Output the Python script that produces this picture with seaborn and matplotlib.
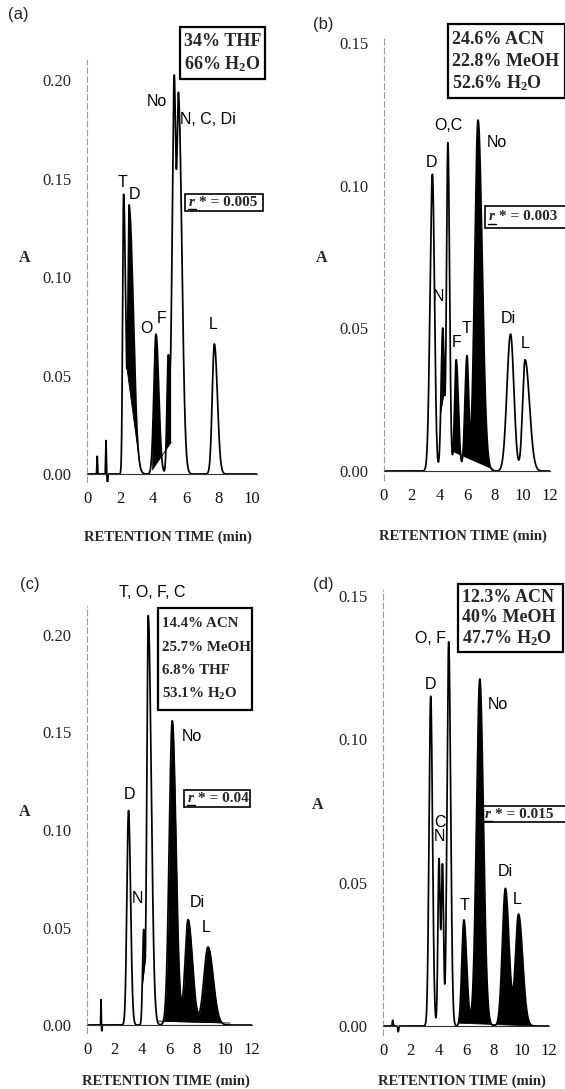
import numpy as np
import pandas as pd
import matplotlib
matplotlib.use("Agg")
import matplotlib.pyplot as plt
from matplotlib.patches import Rectangle
from matplotlib.lines import Line2D
import seaborn as sns

sns.set_theme(style="white")
plt.rcParams["font.family"] = ["Liberation Serif", "DejaVu Serif"]
plt.rcParams["mathtext.fontset"] = "custom"
plt.rcParams["mathtext.rm"] = "Liberation Serif:bold"
plt.rcParams["mathtext.bf"] = "Liberation Serif:bold"
plt.rcParams["mathtext.it"] = "Liberation Serif:italic:bold"

# ---------------- data ----------------
# panel (a): 34% THF / 66% H2O
A_TIME    = [0.62, 1.15, 1.24, 2.22, 2.56, 4.18, 4.92, 5.28, 5.55, 7.72]
A_HEIGHT  = [0.009, 0.017, -0.005, 0.142, 0.134, 0.071, 0.058, 0.197, 0.188, 0.066]
A_SIG_L   = [0.02, 0.02, 0.02, 0.06, 0.07, 0.13, 0.08, 0.12, 0.10, 0.13]
A_SIG_R   = [0.02, 0.02, 0.02, 0.12, 0.25, 0.17, 0.10, 0.10, 0.20, 0.18]
A_FILL_T0 = [2.40, 3.95]
A_FILL_T1 = [3.25, 5.10]
A_FILL_Y0 = [0.055, 0.002]
A_FILL_Y1 = [0.002, 0.016]
A_LABELS  = ["T", "D", "No", "N, C, Di", "O", "F", "L"]
A_LAB_X   = [2.15, 2.85, 4.25, 7.35, 3.6, 4.55, 7.65]
A_LAB_Y   = [0.148, 0.142, 0.189, 0.180, 0.074, 0.079, 0.076]

# panel (b): 24.6% ACN / 22.8% MeOH / 52.6% H2O
B_TIME    = [3.50, 4.25, 4.62, 5.22, 6.00, 6.80, 9.15, 10.20]
B_HEIGHT  = [0.104, 0.050, 0.115, 0.039, 0.040, 0.123, 0.048, 0.039]
B_SIG_L   = [0.17, 0.12, 0.10, 0.12, 0.15, 0.24, 0.26, 0.18]
B_SIG_R   = [0.15, 0.10, 0.12, 0.16, 0.12, 0.30, 0.24, 0.32]
B_FILL_T0 = [4.08, 4.90]
B_FILL_T1 = [4.42, 7.95]
B_FILL_Y0 = [0.020, 0.007]
B_FILL_Y1 = [0.030, 0.0005]
B_LABELS  = ["D", "N", "O,C", "F", "T", "No", "Di", "L"]
B_LAB_X   = [3.44, 3.95, 4.65, 5.26, 5.99, 8.17, 9.0, 10.2]
B_LAB_Y   = [0.108, 0.061, 0.121, 0.045, 0.050, 0.115, 0.0535, 0.0447]

# panel (c): 14.4% ACN / 25.7% MeOH / 6.8% THF / 53.1% H2O
C_TIME    = [1.02, 1.08, 3.02, 4.12, 4.45, 6.20, 7.35, 8.80]
C_HEIGHT  = [0.013, -0.003, 0.110, 0.048, 0.210, 0.156, 0.054, 0.040]
C_SIG_L   = [0.015, 0.02, 0.12, 0.08, 0.10, 0.22, 0.22, 0.30]
C_SIG_R   = [0.015, 0.02, 0.15, 0.08, 0.22, 0.27, 0.32, 0.38]
C_FILL_T0 = [4.02, 5.20]
C_FILL_T1 = [4.27, 10.40]
C_FILL_Y0 = [0.020, 0.002]
C_FILL_Y1 = [0.035, 0.001]
C_LABELS  = ["T, O, F, C", "D", "No", "N", "Di", "L"]
C_LAB_X   = [4.75, 3.06, 7.6, 3.65, 8.0, 8.7]
C_LAB_Y   = [0.222, 0.118, 0.148, 0.065, 0.0626, 0.050]

# panel (d): 12.3% ACN / 40% MeOH / 47.7% H2O
D_TIME    = [0.70, 1.10, 3.45, 4.05, 4.30, 4.75, 5.85, 7.00, 8.85, 9.80]
D_HEIGHT  = [0.002, -0.002, 0.115, 0.058, 0.056, 0.134, 0.037, 0.121, 0.048, 0.039]
D_SIG_L   = [0.03, 0.03, 0.12, 0.08, 0.08, 0.12, 0.15, 0.24, 0.22, 0.22]
D_SIG_R   = [0.03, 0.03, 0.13, 0.08, 0.08, 0.14, 0.20, 0.26, 0.26, 0.30]
D_FILL_T0 = [5.45]
D_FILL_T1 = [10.90]
D_FILL_Y0 = [0.001]
D_FILL_Y1 = [0.000]
D_LABELS  = ["O, F", "D", "No", "C", "N", "T", "Di", "L"]
D_LAB_X   = [3.45, 3.46, 8.34, 4.15, 4.07, 5.9, 8.83, 9.73]
D_LAB_Y   = [0.135, 0.119, 0.112, 0.071, 0.066, 0.042, 0.054, 0.044]

COMPOSITION = {
    "a": ["34% THF", "66% H$_{2}$O"],
    "b": ["24.6% ACN", "22.8% MeOH", "52.6% H$_{2}$O"],
    "c": ["14.4% ACN", "25.7% MeOH", "6.8% THF", "53.1% H$_{2}$O"],
    "d": ["12.3% ACN", "40% MeOH", "47.7% H$_{2}$O"],
}
R_STAR = {"a": "0.005", "b": "0.003", "c": "0.04", "d": "0.015"}
A_TICKS_Y = [0.00, 0.05, 0.10, 0.15, 0.20]
B_TICKS_Y = [0.00, 0.05, 0.10, 0.15]
A_TICKS_X = [0, 2, 4, 6, 8, 10]
C_TICKS_X = [0, 2, 4, 6, 8, 10, 12]

# ---------------- figure ----------------
W, H = 565, 1089
fig = plt.figure(figsize=(W / 100, H / 100), dpi=100)


def fx(px):
    return px / W


def fy(py):
    return 1 - py / H


def chrom(t, times, heights, sl, sr):
    y = np.zeros_like(t)
    for t0, h, a, b in zip(times, heights, sl, sr):
        s = np.where(t < t0, a, b)
        y += h * np.exp(-0.5 * ((t - t0) / s) ** 2)
    return y


panels = {
    "a": dict(data=(A_TIME, A_HEIGHT, A_SIG_L, A_SIG_R),
              fill=(A_FILL_T0, A_FILL_T1, A_FILL_Y0, A_FILL_Y1),
              labels=(A_LABELS, A_LAB_X, A_LAB_Y),
              xlim=(0, 10.3), ylim=(-0.004, 0.21),
              x0px=87, ppx=16.5, y0px=474, ppy=1970, xlab_dy=63,
              xticks=A_TICKS_X, yticks=A_TICKS_Y, tmax=10.3),
    "b": dict(data=(B_TIME, B_HEIGHT, B_SIG_L, B_SIG_R),
              fill=(B_FILL_T0, B_FILL_T1, B_FILL_Y0, B_FILL_Y1),
              labels=(B_LABELS, B_LAB_X, B_LAB_Y),
              xlim=(0, 12), ylim=(-0.003, 0.152),
              x0px=384, ppx=13.83, y0px=471, ppy=2853, xlab_dy=65,
              xticks=C_TICKS_X, yticks=B_TICKS_Y, tmax=12),
    "c": dict(data=(C_TIME, C_HEIGHT, C_SIG_L, C_SIG_R),
              fill=(C_FILL_T0, C_FILL_T1, C_FILL_Y0, C_FILL_Y1),
              labels=(C_LABELS, C_LAB_X, C_LAB_Y),
              xlim=(0, 12), ylim=(-0.004, 0.215),
              x0px=87, ppx=13.75, y0px=1025, ppy=1950, xlab_dy=56,
              xticks=C_TICKS_X, yticks=A_TICKS_Y, tmax=12),
    "d": dict(data=(D_TIME, D_HEIGHT, D_SIG_L, D_SIG_R),
              fill=(D_FILL_T0, D_FILL_T1, D_FILL_Y0, D_FILL_Y1),
              labels=(D_LABELS, D_LAB_X, D_LAB_Y),
              xlim=(0, 12), ylim=(-0.003, 0.152),
              x0px=383, ppx=13.83, y0px=1026, ppy=2867, xlab_dy=55,
              xticks=C_TICKS_X, yticks=B_TICKS_Y, tmax=12),
}

sans = ["Liberation Sans", "DejaVu Sans"]

for key, p in panels.items():
    x0, x1 = p["xlim"]
    y0, y1 = p["ylim"]
    left = p["x0px"] + x0 * p["ppx"]
    right = p["x0px"] + x1 * p["ppx"]
    bot = p["y0px"] - y0 * p["ppy"]
    top = p["y0px"] - y1 * p["ppy"]
    ax = fig.add_axes([fx(left), fy(bot), fx(right - left), (bot - top) / H])

    t = np.linspace(0, p["tmax"], 6000)
    y = chrom(t, *p["data"])
    df = pd.DataFrame({"t": t, "A": y})
    sns.lineplot(data=df, x="t", y="A", ax=ax, color="black", lw=1.25,
                 estimator=None, sort=False)
    for a, b, ya, yb in zip(*p["fill"]):
        m = (t >= a) & (t <= b)
        base = ya + (yb - ya) * (t[m] - a) / (b - a)
        ax.fill_between(t[m], base, y[m], where=y[m] >= base, color="black",
                        lw=0, interpolate=True)
        ax.plot([a, b], [ya, yb], color="black", lw=0.6)

    ax.set_xlim(x0, x1)
    ax.set_ylim(y0, y1)
    ax.set_xticks(p["xticks"])
    ax.set_yticks(p["yticks"])
    ax.set_yticklabels([f"{v:.2f}" for v in p["yticks"]])
    ax.set_xlabel("")
    ax.set_ylabel("")
    for s in ["top", "right"]:
        ax.spines[s].set_visible(False)
    ax.spines["left"].set_color("#9a9a9a")
    ax.spines["left"].set_linestyle((0, (5, 3)))
    ax.spines["left"].set_linewidth(0.8)
    ax.spines["bottom"].set_color("#333333")
    ax.spines["bottom"].set_linewidth(0.8)
    ax.spines["bottom"].set_position(("data", 0))
    ax.tick_params(axis="y", direction="out", length=3, width=0.6,
                   color="#777777", labelsize=12, labelcolor="#222222", pad=8)
    ax.tick_params(axis="x", direction="inout", length=6, width=0.6,
                   color="#333333", labelsize=12, labelcolor="#111111", pad=9)
    ax.patch.set_alpha(0)
    for lab, lx, ly in zip(*p["labels"]):
        ax.text(lx, ly, lab, family=sans, fontsize=11.5, ha="center",
                va="center", color="black")

    cx = (left + right) / 2 - 4
    fig.text(fx(cx), fy(p["y0px"] + p["xlab_dy"]), "RETENTION TIME (min)",
             ha="center", va="center", fontsize=10.5, weight="bold")

# y-axis letters and panel tags
for txt, px, py in [("A", 25, 258), ("A", 322, 258), ("A", 25, 812), ("A", 318, 805)]:
    fig.text(fx(px), fy(py), txt, ha="center", va="center", fontsize=11.5,
             weight="bold")
for txt, px, py in [("(a)", 8, 15), ("(b)", 313, 25), ("(c)", 20, 584), ("(d)", 313, 584)]:
    fig.text(fx(px), fy(py), txt, ha="left", va="center", fontsize=12,
             family=sans)

# composition boxes (pixel layout)
BOXES = {"a": (180, 27, 265, 79, 13), "b": (448, 24, 565, 98, 13),
         "c": (158, 608, 252, 710, 10.8), "d": (458, 584, 563, 652, 13)}
for key, (l, tp, r, bt, fs) in BOXES.items():
    fig.patches.append(Rectangle((fx(l), fy(bt)), fx(r - l), (bt - tp) / H,
                                 transform=fig.transFigure, fill=True,
                                 facecolor="white", edgecolor="black", lw=1.6))
    lines = COMPOSITION[key]
    n = len(lines)
    step = (bt - tp - 8) / n
    for i, s in enumerate(lines):
        fig.text(fx(l + 3.5), fy(tp + 4 + step * (i + 0.5)), s, ha="left",
                 va="center", fontsize=fs, weight="bold")

# r* boxes
RBOX = {"a": (185, 194, 263, 211), "b": (485, 206, 566, 228),
        "c": (184, 790, 250, 807), "d": (481, 806, 566, 822)}
for key, (l, tp, r, bt) in RBOX.items():
    fig.patches.append(Rectangle((fx(l), fy(bt)), fx(r - l), (bt - tp) / H,
                                 transform=fig.transFigure, fill=False,
                                 edgecolor="black", lw=1.2))
    cy = (tp + bt) / 2
    fig.text(fx(l + 4), fy(cy), "r", ha="left", va="center", fontsize=11,
             weight="bold", style="italic")
    fig.add_artist(Line2D([fx(l + 3), fx(l + 11)], [fy(cy + 6.5), fy(cy + 6.5)],
                          color="black", lw=1.0, transform=fig.transFigure))
    fig.text(fx(l + 14), fy(cy), "* = " + R_STAR[key], ha="left", va="center",
             fontsize=11, weight="bold")

fig.savefig("out.png", dpi=100)
